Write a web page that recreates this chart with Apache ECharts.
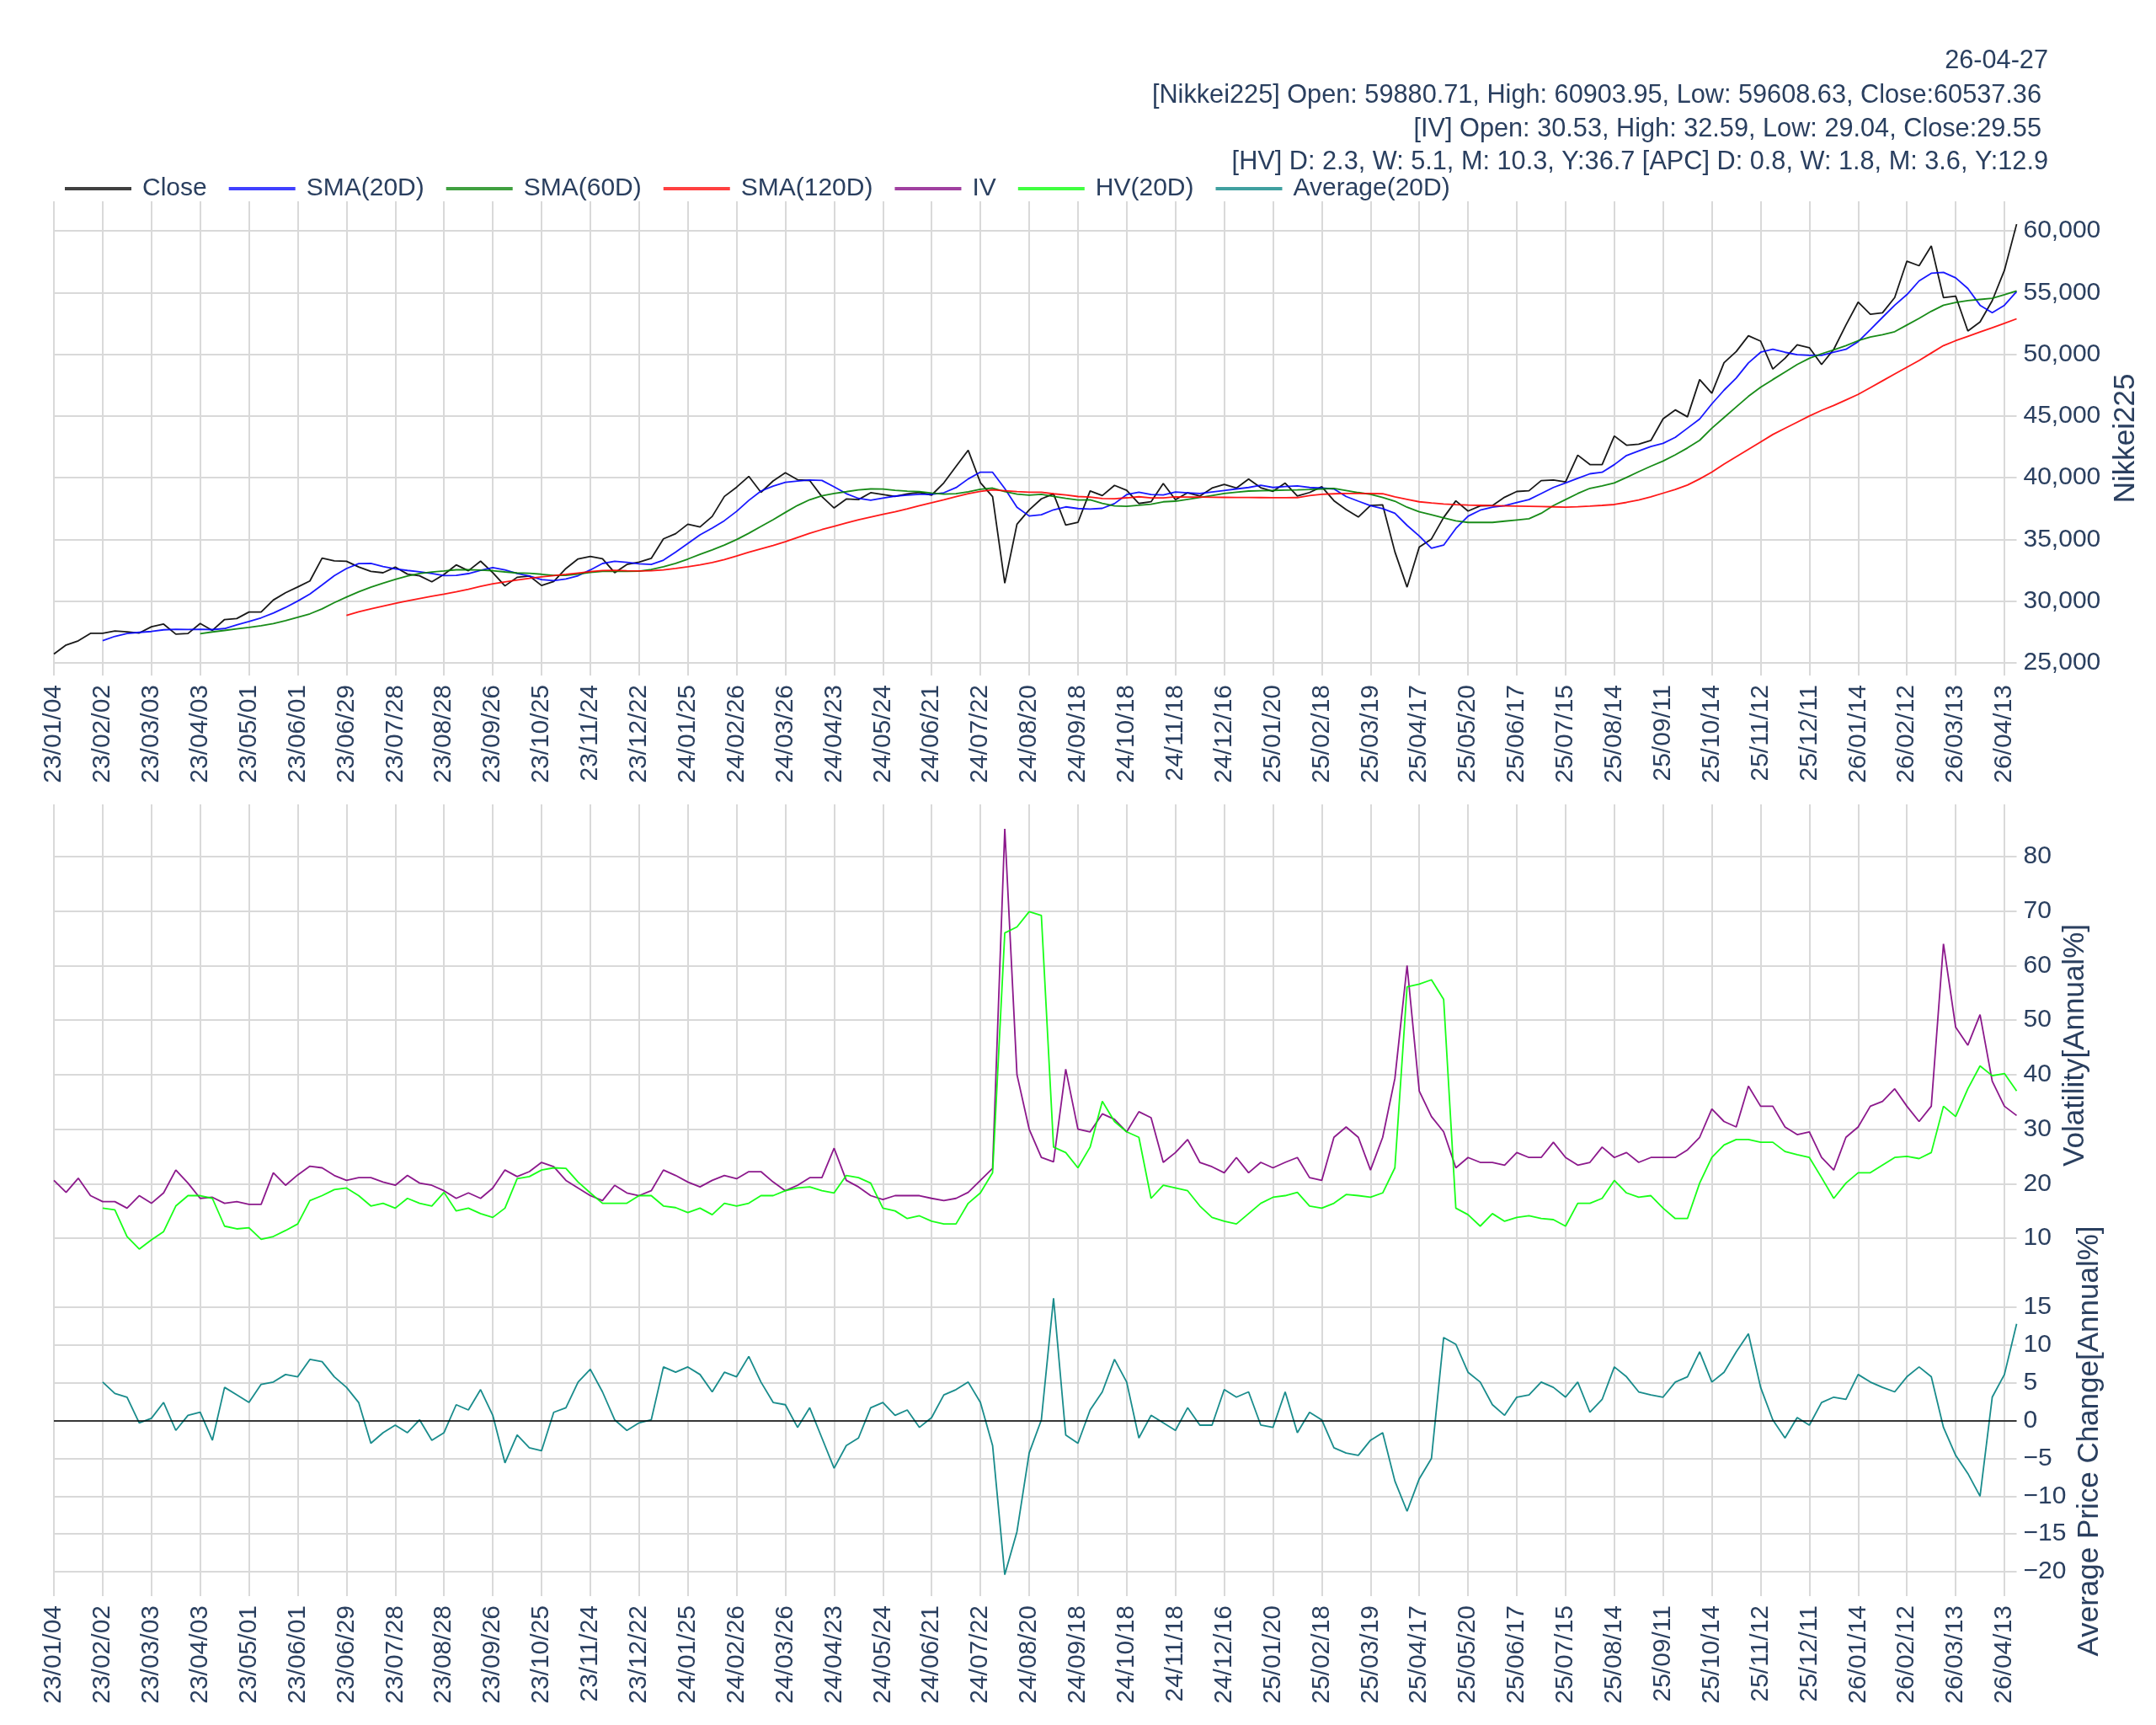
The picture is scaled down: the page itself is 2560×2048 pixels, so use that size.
<!DOCTYPE html>
<html><head><meta charset="utf-8">
<script src="https://cdn.jsdelivr.net/npm/echarts@6/dist/echarts.min.js"></script>
<style>html,body{margin:0;padding:0;background:#fff}#c{width:2560px;height:2048px}</style>
</head><body><div id="c"></div>
<script>
// x tick labels, one every 20 trading days (each data point = 5 trading days)
const tickLabels = ['23/01/04','23/02/02','23/03/03','23/04/03','23/05/01','23/06/01','23/06/29','23/07/28','23/08/28','23/09/26','23/10/25','23/11/24','23/12/22','24/01/25','24/02/26','24/03/26','24/04/23','24/05/24','24/06/21','24/07/22','24/08/20','24/09/18','24/10/18','24/11/18','24/12/16','25/01/20','25/02/18','25/03/19','25/04/17','25/05/20','25/06/17','25/07/15','25/08/14','25/09/11','25/10/14','25/11/12','25/12/11','26/01/14','26/02/12','26/03/13','26/04/13'];

const closeVals = [25717,26447,26791,27395,27402,27584,27513,27423,27927,28143,
27333,27385,28188,27633,28514,28593,29123,29122,30093,30682,
31148,31641,33485,33264,33234,32773,32419,32304,32759,32193,
32059,31566,32169,32939,32467,33242,32315,31237,31936,32043,
31269,31601,32646,33424,33625,33431,32307,32970,33169,33464,
35049,35466,36236,36011,36863,38487,39233,40109,38820,39740,
40398,39838,39773,38471,37552,38274,38229,38787,38646,38487,
38683,38814,38596,39583,40912,42224,39599,38468,31458,36232,
37389,38288,38686,36159,36380,38926,38552,39380,38981,37913,
38053,39533,38220,38780,38513,39160,39457,39161,39894,39190,
38902,39565,38520,38801,39270,38142,37418,36819,37751,37799,
34000,31136,34377,35039,36780,38128,37299,37722,37747,38421,
38885,38942,39762,39821,39663,41826,41069,41059,43378,42633,
42718,43018,44768,45493,44932,47950,46847,49316,50219,51500,
51063,48800,49670,50770,50530,49170,50400,52370,54220,53240,
53360,54590,57540,57170,58770,54590,54710,51880,52620,54340,
56800,60537];

const sma20 = [null,null,null,null,26798,27151,27383,27477,27546,27682,
27729,27702,27730,27699,27782,28081,28349,28652,29035,29494,
30008,30576,31315,32062,32645,33048,33056,32803,32623,32491,
32374,32237,32071,32090,32234,32495,32723,32528,32249,32033,
31752,31667,31801,32062,32530,33053,33239,33140,33026,32973,
33320,33975,34670,35372,35917,36522,37274,38161,38918,39319,
39621,39733,39818,39779,39264,38713,38325,38171,38347,38511,
38594,38654,38651,38782,39198,39900,40450,40440,39120,37600,
36900,37000,37400,37640,37504,37458,37521,37907,38635,38833,
38644,38601,38840,38780,38720,38850,38970,39090,39210,39390,
39210,39280,39340,39210,39160,39090,38475,38100,37740,37490,
37120,36140,35280,34290,34540,35890,36880,37370,37610,37740,
37990,38230,38720,39210,39580,39950,40320,40440,41060,41800,
42170,42530,42780,43270,44010,44750,45980,47090,48070,49300,
50160,50400,50160,49960,49910,49910,50160,50400,51020,52000,
52990,53970,54830,55940,56560,56630,56190,55330,53970,53360,
53970,55080];

const sma60 = [null,null,null,null,null,null,null,null,null,null,
null,null,27358,27511,27631,27753,27875,28011,28182,28426,
28696,28976,29377,29879,30334,30759,31135,31453,31759,32038,
32248,32367,32446,32543,32555,32512,32472,32370,32286,32255,
32182,32095,32095,32197,32335,32416,32430,32412,32436,32564,
32787,33059,33409,33799,34159,34546,34990,35502,36052,36605,
37188,37755,38218,38540,38720,38869,39020,39090,39077,38986,
38912,38868,38754,38669,38706,38866,39065,39158,38884,38676,
38582,38655,38486,38338,38200,38213,37927,37716,37680,37764,
37855,38049,38100,38250,38400,38560,38720,38820,38920,38950,
38970,39000,39020,39050,39090,39140,38970,38800,38650,38400,
38100,37610,37240,37000,36750,36500,36380,36380,36380,36480,
36580,36680,37120,37740,38230,38720,39140,39340,39580,40020,
40490,40930,41350,41850,42410,43030,44010,44870,45730,46590,
47330,47950,48560,49170,49670,50040,50350,50700,51100,51390,
51590,51830,52370,52910,53480,53970,54190,54340,54440,54540,
54830,55130];

const sma120 = [null,null,null,null,null,null,null,null,null,null,
null,null,null,null,null,null,null,null,null,null,
null,null,null,null,28846,29135,29383,29603,29817,30025,
30215,30397,30571,30760,30966,31196,31403,31565,31711,31854,
31971,32067,32172,32282,32391,32480,32493,32462,32454,32467,
32537,32657,32796,32947,33127,33372,33663,33959,34241,34509,
34812,35160,35503,35800,36065,36334,36590,36818,37034,37244,
37482,37737,37971,38212,38462,38703,38893,39014,38952,38883,
38830,38821,38699,38603,38477,38441,38317,38291,38373,38461,
38370,38363,38450,38440,38430,38420,38410,38400,38400,38390,
38380,38380,38390,38550,38650,38700,38720,38720,38720,38700,
38450,38250,38050,37950,37870,37820,37780,37760,37740,37720,
37700,37680,37660,37640,37620,37650,37700,37760,37830,38000,
38200,38450,38750,39050,39410,39900,40450,41100,41700,42300,
42900,43500,44000,44500,45000,45450,45850,46300,46750,47300,
47850,48400,48950,49500,50100,50700,51100,51450,51800,52150,
52500,52870];

const ivVals = [20.6,18.4,21.0,17.8,16.7,16.7,15.5,17.8,16.4,18.3,
22.5,20.1,17.3,17.5,16.4,16.7,16.2,16.2,22.0,19.7,
21.6,23.2,22.9,21.5,20.6,21.1,21.1,20.3,19.7,21.5,
20.1,19.7,18.7,17.3,18.3,17.3,19.2,22.5,21.3,22.2,
23.9,23.1,20.6,19.2,17.8,16.9,19.7,18.3,17.8,18.7,
22.5,21.5,20.3,19.4,20.6,21.5,20.9,22.2,22.2,20.3,
18.7,19.7,21.1,21.1,26.5,20.6,19.4,17.8,17.1,17.8,
17.8,17.8,17.3,16.9,17.3,18.4,20.6,22.8,85.1,40.0,
30.0,24.8,24.0,41.0,30.0,29.5,32.8,31.8,29.5,33.2,
32.1,23.9,25.7,28.1,23.9,23.1,22.0,24.8,22.0,23.9,
22.9,23.9,24.8,21.1,20.6,28.5,30.4,28.5,22.5,28.5,
39.3,60.0,37.0,32.3,29.5,22.9,24.8,23.9,23.9,23.4,
25.7,24.8,24.8,27.6,24.8,23.4,23.9,26.7,24.8,25.7,
23.9,24.8,24.8,24.8,26.2,28.5,33.7,31.4,30.4,37.9,
34.2,34.2,30.4,29.0,29.5,24.8,22.5,28.5,30.4,34.2,
35.1,37.4,34.2,31.4,34.2,64.0,48.7,45.4,51.0,38.8,
34.2,32.5];

const hvVals = [null,null,null,null,15.5,15.2,10.3,8.0,9.7,11.2,
15.9,17.8,17.8,17.3,12.2,11.7,11.9,9.8,10.3,11.4,
12.6,16.9,17.8,18.9,19.2,17.8,15.9,16.4,15.5,17.3,
16.4,15.9,18.4,15.0,15.5,14.5,13.8,15.5,20.9,21.3,
22.5,22.9,22.8,20.3,18.3,16.4,16.4,16.4,17.8,17.8,
15.9,15.6,14.7,15.5,14.3,16.4,15.9,16.4,17.8,17.8,
18.7,19.2,19.4,18.7,18.3,21.5,21.1,20.1,15.5,15.0,
13.6,14.1,13.1,12.6,12.6,16.4,18.3,22.0,66.0,67.1,
69.9,69.2,26.7,25.7,22.9,26.7,35.1,31.4,29.5,28.5,
17.3,19.7,19.2,18.7,15.9,13.8,13.1,12.6,14.5,16.4,
17.5,17.8,18.4,15.9,15.5,16.4,18.0,17.8,17.5,18.3,
22.9,56.1,56.6,57.4,53.8,15.5,14.3,12.2,14.5,13.1,
13.8,14.1,13.6,13.4,12.2,16.4,16.4,17.3,20.6,18.3,
17.5,17.8,15.5,13.6,13.6,20.1,24.8,27.1,28.1,28.1,
27.6,27.6,25.9,25.3,24.8,21.1,17.3,20.1,22.0,22.0,
23.4,24.8,25.0,24.6,25.7,34.2,32.3,37.4,41.6,39.8,
40.2,37.0];

const apcVals = [null,null,null,null,5.1,3.6,3.1,-0.3,0.3,2.4,
-1.3,0.7,1.1,-2.6,4.4,3.4,2.4,4.8,5.1,6.1,
5.8,8.1,7.8,5.8,4.4,2.4,-3.0,-1.6,-0.6,-1.6,
0.1,-2.6,-1.6,2.1,1.4,4.1,0.7,-5.6,-1.9,-3.6,
-4.0,1.1,1.7,5.1,6.8,3.8,0.1,-1.3,-0.3,0.1,
7.1,6.4,7.1,6.1,3.8,6.4,5.8,8.5,5.1,2.4,
2.1,-0.9,1.7,-2.3,-6.3,-3.3,-2.3,1.7,2.4,0.7,
1.4,-0.9,0.4,3.4,4.1,5.1,2.4,-3.3,-20.4,-14.7,
-4.3,0.1,16.2,-1.9,-3.0,1.4,3.8,8.1,5.1,-2.3,
0.7,-0.3,-1.3,1.7,-0.6,-0.6,4.1,3.1,3.8,-0.6,
-0.9,3.8,-1.6,1.1,0.1,-3.6,-4.3,-4.6,-2.6,-1.6,
-8.0,-12.0,-7.7,-5.0,11.0,10.1,6.4,5.1,2.1,0.7,
3.1,3.4,5.1,4.4,3.1,5.1,1.1,2.8,7.1,5.8,
3.8,3.4,3.1,5.1,5.8,9.1,5.1,6.4,9.1,11.5,
4.4,0.1,-2.3,0.4,-0.6,2.4,3.1,2.8,6.1,5.1,
4.4,3.8,5.8,7.1,5.8,-0.9,-4.6,-7.0,-10.0,3.1,
6.1,12.8];

const headerLines = ['26-04-27',
  '[Nikkei225] Open: 59880.71, High: 60903.95, Low: 59608.63, Close:60537.36',
  '[IV] Open: 30.53, High: 32.59, Low: 29.04, Close:29.55',
  '[HV] D: 2.3, W: 5.1, M: 10.3, Y:36.7 [APC] D: 0.8, W: 1.8, M: 3.6, Y:12.9'];

const FONT = '"Liberation Sans", Arial, sans-serif';
const TXT = '#2a3f5f';
const GC = '#d9d9d9';
const cats = closeVals.map((_, i) => String(i));

const chart = echarts.init(document.getElementById('c'), null, {renderer: 'canvas'});

function xAx(gi, showLabel) {
  return {
    type: 'category', gridIndex: gi, data: cats, boundaryGap: false,
    axisLine: {show: false}, axisTick: {show: false},
    axisLabel: {show: showLabel, interval: 3, rotate: 90, margin: 11, fontSize: 30, color: TXT, fontFamily: FONT,
      formatter: (v, i) => (i % 4 === 0 && tickLabels[i / 4]) ? tickLabels[i / 4] : ''},
    splitLine: {show: true, interval: 3, lineStyle: {color: GC, width: 2}}
  };
}
function yAx(gi, min, max, name, gap, fmt) {
  return {
    type: 'value', gridIndex: gi, position: 'right', min: min, max: max, splitNumber: 8, scale: true,
    axisLine: {show: false}, axisTick: {show: false},
    axisLabel: {margin: 8, fontSize: 30, color: TXT, fontFamily: FONT, showMinLabel: false, showMaxLabel: false, formatter: fmt},
    splitLine: {show: true, showMinLine: false, showMaxLine: false, lineStyle: {color: GC, width: 2}},
    name: name, nameLocation: 'middle', nameRotate: 90, nameGap: gap,
    nameTextStyle: {fontSize: 35, color: TXT, fontFamily: FONT}
  };
}
function ln(name, data, color, xi, yi, extra) {
  return Object.assign({
    name: name, type: 'line', xAxisIndex: xi, yAxisIndex: yi, data: data,
    symbol: 'none', showSymbol: false, connectNulls: false, silent: true,
    itemStyle: {color: color}, lineStyle: {color: color, width: 1.8, opacity: 0.9}
  }, extra || {});
}

const option = {
  animation: false,
  backgroundColor: '#ffffff',
  textStyle: {fontFamily: FONT},
  graphic: headerLines.map((t, i) => ({
    type: 'text', x: [2432, 2424, 2424, 2432][i], y: [73, 114, 154, 193][i],
    style: {text: t, fill: TXT, fontSize: 30.7, fontFamily: FONT, align: 'right', verticalAlign: 'middle'}
  })),
  legend: {
    left: 77, top: 209, padding: 0, itemGap: 26, itemWidth: 79, itemHeight: 4, icon: 'rect',
    itemStyle: {opacity: 0.75},
    textStyle: {fontSize: 30, color: TXT, fontFamily: FONT, padding: [0, 0, 0, 8]},
    data: ['Close', 'SMA(20D)', 'SMA(60D)', 'SMA(120D)', 'IV', 'HV(20D)', 'Average(20D)']
  },
  grid: [
    {left: 64, right: 165.5, top: 239, height: 563, outerBoundsMode: 'none'},
    {left: 64, right: 165.5, top: 955, height: 572, outerBoundsMode: 'none'},
    {left: 64, right: 165.5, top: 1527, height: 368, outerBoundsMode: 'none'}
  ],
  xAxis: [xAx(0, true), xAx(1, false), xAx(2, true)],
  yAxis: [
    yAx(0, 23980, 62388, 'Nikkei225', 112, v => Math.round(v).toLocaleString('en-US')),
    yAx(1, 1.19, 89.58, 'Volatility[Annual%]', 49, v => String(Math.round(v))),
    yAx(2, -23.23, 17.79, 'Average Price Change[Annual%]', 69, v => v < 0 ? '\u2212' + Math.abs(Math.round(v)) : String(Math.round(v)))
  ],
  series: [
    ln('Close', closeVals, '#000000', 0, 0),
    ln('SMA(20D)', sma20, '#0000ff', 0, 0),
    ln('SMA(60D)', sma60, '#008000', 0, 0),
    ln('SMA(120D)', sma120, '#ff0000', 0, 0),
    ln('IV', ivVals, '#800080', 1, 1),
    ln('HV(20D)', hvVals, '#00ff00', 1, 1),
    ln('Average(20D)', apcVals, '#008080', 2, 2, {
      markLine: {silent: true, symbol: ['none', 'none'], label: {show: false}, animation: false,
        lineStyle: {color: '#000000', width: 1.5, type: 'solid', opacity: 1}, data: [{yAxis: 0}]}
    })
  ]
};
chart.setOption(option);
</script>
</body></html>
